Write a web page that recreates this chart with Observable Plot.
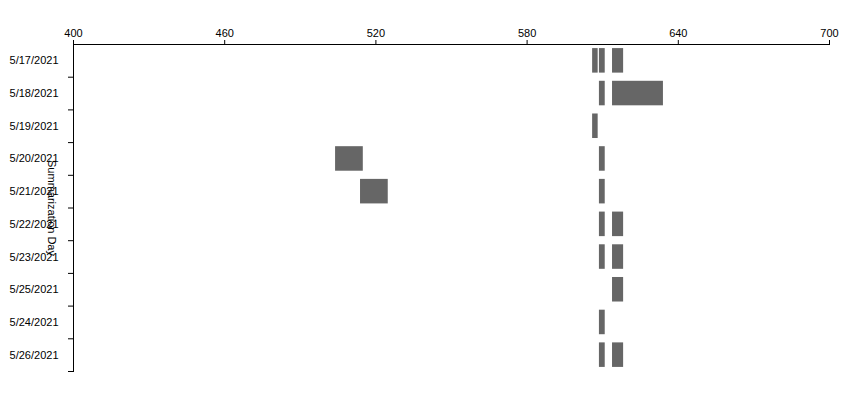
<!DOCTYPE html>
<html>
<head>
<meta charset="utf-8">
<script src="https://cdn.jsdelivr.net/npm/d3@7"></script>
<script src="https://cdn.jsdelivr.net/npm/@observablehq/plot@0.6"></script>
<style>
  html, body { margin: 0; padding: 0; background: #fff; }
  #chart svg { display: block; }
</style>
</head>
<body>
<div id="chart"></div>
<script>
// Category order as shown on the y axis
const days = ["5/17/2021","5/18/2021","5/19/2021","5/20/2021","5/21/2021","5/22/2021","5/23/2021","5/25/2021","5/24/2021","5/26/2021"];
// x-axis tick values
const xTicks = [400, 460, 520, 580, 640, 700];
// Bars: day, start, end
const barDays   = ["5/17/2021","5/17/2021","5/17/2021","5/18/2021","5/18/2021","5/19/2021","5/20/2021","5/20/2021","5/21/2021","5/21/2021","5/22/2021","5/22/2021","5/23/2021","5/23/2021","5/25/2021","5/24/2021","5/26/2021","5/26/2021"];
const barStarts = [606.0, 608.7, 613.9, 608.7, 613.9, 606.0, 608.7, 504.0, 608.7, 513.9, 608.7, 613.9, 608.7, 613.9, 613.9, 608.7, 608.7, 613.9];
const barEnds   = [608.2, 611.0, 618.3, 611.0, 634.1, 608.2, 611.0, 515.0, 611.0, 524.9, 611.0, 618.3, 611.0, 618.3, 618.3, 611.0, 611.0, 618.3];
const axisTitle = "Summarization Day";

const bars = barDays.map((d, i) => ({day: d, start: barStarts[i], end: barEnds[i]}));

const base = {
  width: 859,
  height: 397,
  marginLeft: 73,
  marginRight: 30,
  marginTop: 44,
  marginBottom: 26,
  style: {fontFamily: "'Liberation Sans', Arial, sans-serif", fontSize: "11px", color: "#000", background: "#fff"},
  x: {domain: [400, 700]},
  y: {domain: days, paddingInner: 0.25, paddingOuter: 0.125, round: false}
};

const probe = Plot.plot({...base, marks: []});
const ys = probe.scale("y");
const step = ys.step ?? (ys.bandwidth / (1 - 0.25));

const chart = Plot.plot({
  ...base,
  marks: [
    Plot.rectX(bars, {y: "day", x1: "start", x2: "end", fill: "#666666"}),
    Plot.frame({anchor: "top", stroke: "#000"}),
    Plot.frame({anchor: "left", stroke: "#000"}),
    Plot.axisX({anchor: "top", ticks: xTicks, tickSize: 5, tickPadding: 3, label: null, fontSize: 11}),
    Plot.axisY({anchor: "left", tickSize: 0, tickPadding: 15, label: null, fontSize: 11}),
    Plot.axisY({anchor: "left", tickSize: 5, dy: step / 2, tickFormat: () => "", label: null}),
    Plot.text([axisTitle], {frameAnchor: "left", textAnchor: "middle", rotate: 90, dx: -22, fontSize: 11, fill: "#000"})
  ]
});
document.getElementById("chart").appendChild(chart);
</script>
</body>
</html>
